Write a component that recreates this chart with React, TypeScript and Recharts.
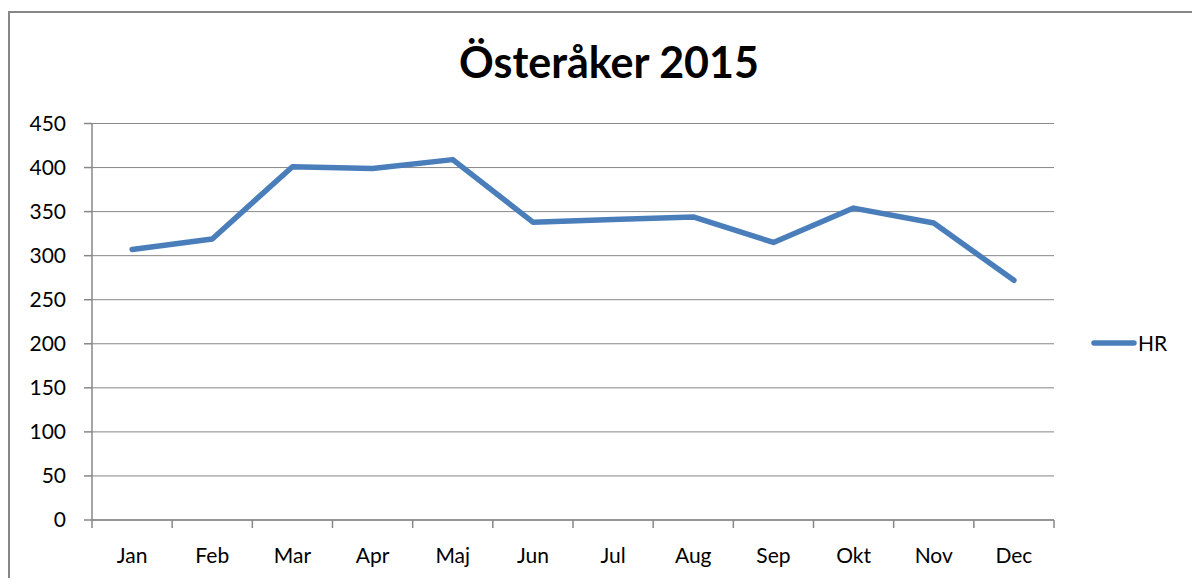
import React from "react";
import {
  ComposedChart,
  Line,
  XAxis,
  YAxis,
  CartesianGrid,
  Legend,
} from "recharts";

const months = ["Jan", "Feb", "Mar", "Apr", "Maj", "Jun", "Jul", "Aug", "Sep", "Okt", "Nov", "Dec"];
const hrValues = [307, 319, 401, 399, 409, 338, 341, 344, 315, 354, 337, 272];
const yTicks = [0, 50, 100, 150, 200, 250, 300, 350, 400, 450];

const data = months.map((m, i) => ({ month: m, HR: hrValues[i] }));

const FONT = "Lato, 'Open Sans', sans-serif";
const GRID = "#878787";
const BLUE = "#4a7ebb";
const X_TICK_SIZE = 8;
const X_TICK_MARGIN = 20;

const LegendContent = () => (
  <div style={{ display: "flex", alignItems: "center", fontFamily: FONT, fontSize: 21, color: "#000" }}>
    <svg width={46} height={10}>
      <line x1={3} y1={5} x2={43} y2={5} stroke={BLUE} strokeWidth={5.5} strokeLinecap="round" />
    </svg>
    <span style={{ marginLeft: 1 }}>HR</span>
  </div>
);

// Excel-style: tick marks sit on the category boundaries, labels in the middle
const MonthTick = (props: any) => {
  const { x, y, payload, index, visibleTicksCount } = props;
  const half = payload.offset || 0;
  const axisY = y - X_TICK_SIZE - X_TICK_MARGIN;
  return (
    <g>
      <line x1={x - half} x2={x - half} y1={axisY} y2={axisY + X_TICK_SIZE} stroke={GRID} strokeWidth={1.5} />
      {index === visibleTicksCount - 1 && (
        <line x1={x + half} x2={x + half} y1={axisY} y2={axisY + X_TICK_SIZE} stroke={GRID} strokeWidth={1.5} />
      )}
      <text x={x} y={y} dy="0.71em" textAnchor="middle" fill="#000" fontSize={21} fontFamily={FONT}>
        {payload.value}
      </text>
    </g>
  );
};

export default function App() {
  return (
    <div style={{ position: "relative", width: 1184, height: 570 }}>
      <div
        style={{
          position: "absolute",
          left: 0,
          top: 3,
          width: 1182,
          height: 565,
          borderLeft: `2px solid ${GRID}`,
          borderTop: `2px solid ${GRID}`,
        }}
      />
      <div
        style={{
          position: "absolute",
          left: 0,
          width: 1202,
          top: 32,
          textAlign: "center",
          fontFamily: FONT,
          fontWeight: 700,
          fontSize: 43,
          lineHeight: "43px",
          color: "#000",
        }}
      >
        Österåker 2015
      </div>
      <div style={{ position: "absolute", left: 2, top: 5 }}>
        <ComposedChart
          width={1180}
          height={560}
          data={data}
          margin={{ top: 110.5, right: 136, bottom: 13, left: 0 }}
        >
          <CartesianGrid vertical={false} stroke={GRID} strokeWidth={1} />
          <XAxis
            dataKey="month"
            scale="band"
            height={40}
            axisLine={{ stroke: GRID, strokeWidth: 1.5 }}
            tickLine={false}
            tickSize={X_TICK_SIZE}
            tickMargin={X_TICK_MARGIN}
            interval={0}
            tick={<MonthTick />}
          />
          <YAxis
            width={82}
            domain={[0, 450]}
            ticks={yTicks}
            interval={0}
            tickSize={8}
            tickMargin={18}
            axisLine={{ stroke: GRID, strokeWidth: 1.5 }}
            tickLine={{ stroke: GRID, strokeWidth: 1.5 }}
            tick={{ fill: "#000", fontSize: 21, fontFamily: FONT }}
          />
          <Legend
            layout="horizontal"
            verticalAlign="middle"
            align="center"
            wrapperStyle={{ left: 1081, top: 317, width: 100 }}
            content={<LegendContent />}
          />
          <Line
            type="linear"
            dataKey="HR"
            name="HR"
            stroke={BLUE}
            strokeWidth={5.5}
            strokeLinejoin="round"
            strokeLinecap="round"
            dot={false}
            activeDot={false}
            isAnimationActive={false}
          />
        </ComposedChart>
      </div>
    </div>
  );
}
